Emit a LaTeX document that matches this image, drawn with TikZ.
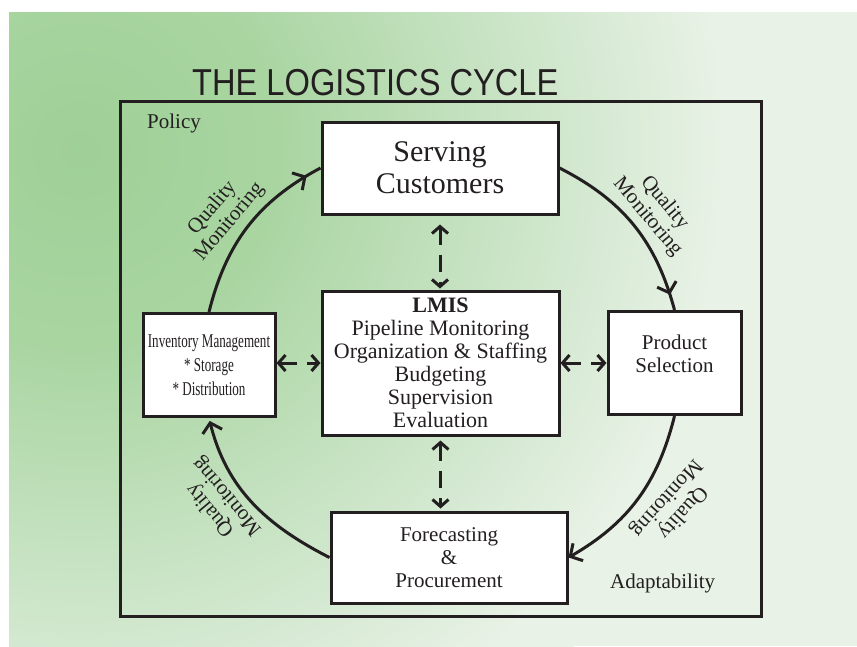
\documentclass[tikz,border=0pt]{standalone}
\usepackage{fontspec}
\setmainfont{Liberation Serif}
\newfontfamily\titlefont[FakeStretch=0.87]{Liberation Sans}
\newfontfamily\condfont[FakeStretch=0.67]{Liberation Serif}
\usetikzlibrary{arrows.meta,decorations.markings}
\definecolor{ink}{HTML}{231F20}
\definecolor{bgA}{HTML}{9FD097}
\definecolor{bgB}{HTML}{A9D5A1}
\definecolor{bgC}{HTML}{C8E3C4}
\definecolor{bgD}{HTML}{E8F2E6}
\pgfdeclareradialshading{bgshade}{\pgfpoint{0bp}{0bp}}{color(0bp)=(bgA); color(7bp)=(bgB); color(15bp)=(bgC); color(23bp)=(bgD); color(25bp)=(bgD); color(50bp)=(bgD)}
\begin{document}
\begin{tikzpicture}[x=1pt,y=1pt,
  box/.style={draw=ink, fill=white, line width=3pt, inner sep=0pt, align=center, text=ink},
  cyc/.style={draw=ink, line width=3pt},
  qm/.style={align=center, font=\fontsize{21}{22}\selectfont, text=ink, inner sep=0pt},
  dbl/.style={draw=ink, line width=3pt, {Straight Barb[length=7pt,width=16pt]}-{Straight Barb[length=7pt,width=16pt]}, dash pattern=on 17pt off 10pt},
  tipend/.style={-{Straight Barb[length=9pt,width=20pt]}},
  tipnear/.style={postaction={decorate}, decoration={markings, mark=at position -16pt with {\arrow{Straight Barb[length=9pt,width=20pt]}}}}
]
\useasboundingbox (0,0) rectangle (857,-646);
\fill[bgD] (9,-12) rectangle (857,-646);
\begin{scope}
\clip (9,-12) rectangle (857,-646);
\shade[shading=bgshade] (80,-150) circle (700pt);
\end{scope}

\draw[ink, line width=3pt] (120,-101) rectangle (761,-616);

\node[anchor=base west, inner sep=0pt, text=ink, font=\titlefont\fontsize{37.5}{40}\selectfont] (title) at (192,-95) {THE LOGISTICS CYCLE};
\node[anchor=base west, inner sep=0pt, font=\fontsize{21}{24}\selectfont, text=ink] (policy) at (147,-128) {Policy};
\node[anchor=base west, inner sep=0pt, font=\fontsize{21}{24}\selectfont, text=ink] (adapt) at (610,-588) {Adaptability};

\node[box, minimum width=236pt, minimum height=92pt, font=\fontsize{30}{32}\selectfont] (serve) at (440,-168) {\raisebox{-3pt}[\height][\depth]{\begin{tabular}{@{}c@{}}Serving\\Customers\end{tabular}}};
\node[box, minimum width=237pt, minimum height=144pt, font=\fontsize{22}{23}\selectfont] (lmis) at (440.5,-363) {\textbf{LMIS}\\Pipeline Monitoring\\Organization \& Staffing\\Budgeting\\Supervision\\Evaluation};
\node[box, minimum width=132pt, minimum height=103pt, font=\condfont\fontsize{19.5}{24}\selectfont] (inv) at (209,-365) {Inventory Management\\* Storage\\* Distribution};
\node[box, minimum width=133pt, minimum height=103pt, font=\fontsize{21}{23}\selectfont] (prod) at (674.5,-363) {\raisebox{7pt}[\height][\depth]{\begin{tabular}{@{}c@{}}Product\\Selection\end{tabular}}};
\node[box, minimum width=236pt, minimum height=91pt, font=\fontsize{21}{23}\selectfont] (fore) at (449,-557.5) {Forecasting\\\&\\Procurement};

\draw[cyc, tipnear] (inv.north) to[out=76, in=208] (serve.west);
\draw[cyc, tipnear] (serve.east) to[out=-27, in=105] (prod.north);
\draw[cyc, tipend] (prod.south) to[out=-104, in=30] (fore.east);
\draw[cyc, tipend, shorten >=3pt] (fore.west) to[out=153, in=284] (inv.south);

\draw[dbl, shorten <=9pt, shorten >=1pt] (serve.south) -- (serve.south |- lmis.north);
\draw[dbl, shorten <=4pt, shorten >=2pt] (lmis.south) -- (lmis.south |- fore.north);
\draw[dbl] (lmis.west -| inv.east) -- (lmis.west);
\draw[dbl] (lmis.east) -- (lmis.east -| prod.west);

\node[qm, rotate=50] (qmA) at (221,-215) {Quality\\Monitoring};
\node[qm, rotate=-50] (qmB) at (656,-210) {Quality\\Monitoring};
\node[qm, rotate=228] (qmC) at (674,-505) {Quality\\Monitoring};
\node[qm, rotate=130] (qmD) at (219,-503) {Quality\\Monitoring};
\end{tikzpicture}
\end{document}
